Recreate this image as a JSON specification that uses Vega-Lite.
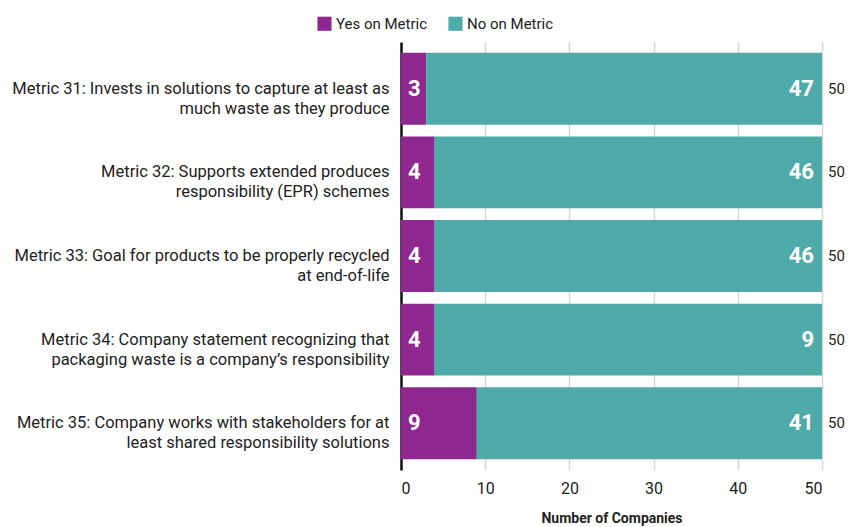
{
  "$schema": "https://vega.github.io/schema/vega-lite/v6.json",
  "width": 421,
  "height": 428,
  "autosize": {"type": "none"},
  "padding": {"left": 401, "top": 42, "right": 26, "bottom": 57},
  "background": "white",
  "config": {
    "view": {"stroke": null},
    "font": "Roboto",
    "axis": {"labelFont": "Roboto", "titleFont": "Roboto"},
    "legend": {"labelFont": "Roboto"}
  },
  "data": {
    "values": [
      {"metric": "Metric 31: Invests in solutions to capture at least as|much waste as they produce", "status": "Yes on Metric", "value": 3, "label": "3"},
      {"metric": "Metric 31: Invests in solutions to capture at least as|much waste as they produce", "status": "No on Metric", "value": 47, "label": "47"},
      {"metric": "Metric 32: Supports extended produces|responsibility (EPR) schemes", "status": "Yes on Metric", "value": 4, "label": "4"},
      {"metric": "Metric 32: Supports extended produces|responsibility (EPR) schemes", "status": "No on Metric", "value": 46, "label": "46"},
      {"metric": "Metric 33: Goal for products to be properly recycled|at end-of-life", "status": "Yes on Metric", "value": 4, "label": "4"},
      {"metric": "Metric 33: Goal for products to be properly recycled|at end-of-life", "status": "No on Metric", "value": 46, "label": "46"},
      {"metric": "Metric 34: Company statement recognizing that|packaging waste is a company’s responsibility", "status": "Yes on Metric", "value": 4, "label": "4"},
      {"metric": "Metric 34: Company statement recognizing that|packaging waste is a company’s responsibility", "status": "No on Metric", "value": 46, "label": "9"},
      {"metric": "Metric 35: Company works with stakeholders for at|least shared responsibility solutions", "status": "Yes on Metric", "value": 9, "label": "9"},
      {"metric": "Metric 35: Company works with stakeholders for at|least shared responsibility solutions", "status": "No on Metric", "value": 41, "label": "41"}
    ]
  },
  "encoding": {
    "y": {
      "field": "metric",
      "type": "nominal",
      "sort": null,
      "scale": {"paddingInner": 0.14, "paddingOuter": 0.13},
      "axis": {
        "title": null,
        "labelExpr": "split(datum.label, '|')",
        "labelFontSize": 16.5,
        "labelColor": "#222222",
        "labelLimit": 420,
        "labelPadding": 12,
        "labelLineHeight": 20,
        "ticks": false,
        "domainColor": "#111111",
        "domainWidth": 2.5
      }
    }
  },
  "layer": [
    {
      "mark": {"type": "bar"},
      "encoding": {
        "x": {
          "field": "value",
          "type": "quantitative",
          "stack": "zero",
          "scale": {"domain": [0, 50], "nice": false},
          "axis": {
            "title": "Number of Companies",
            "titleFontSize": 14,
            "titleFontWeight": "bold",
            "titleColor": "#222222",
            "titlePadding": 15,
            "values": [0, 10, 20, 30, 40, 50],
            "labelFontSize": 16,
            "labelColor": "#222222",
            "labelPadding": 10,
            "domain": false,
            "ticks": false,
            "grid": true,
            "gridColor": "#d6d6d6",
            "gridWidth": 1.5
          }
        },
        "color": {
          "field": "status",
          "type": "nominal",
          "scale": {"domain": ["Yes on Metric", "No on Metric"], "range": ["#8E288E", "#4FABA9"]},
          "legend": {
            "title": null,
            "orient": "none",
            "direction": "horizontal",
            "legendX": -84,
            "legendY": -26,
            "symbolType": "square",
            "symbolSize": 200,
            "symbolStrokeWidth": 0,
            "labelFontSize": 15,
            "labelColor": "#222222",
            "columnPadding": 20,
            "labelOffset": 4
          }
        },
        "order": {"field": "status", "sort": "descending"}
      }
    },
    {
      "transform": [
        {"stack": "value", "groupby": ["metric"], "sort": [{"field": "status", "order": "descending"}], "as": ["x0", "x1"]},
        {"filter": "datum.status === 'Yes on Metric'"}
      ],
      "mark": {"type": "text", "align": "left", "baseline": "middle", "dx": 7, "fontSize": 22, "fontWeight": "bold", "color": "white"},
      "encoding": {
        "x": {"field": "x0", "type": "quantitative"},
        "text": {"field": "label"}
      }
    },
    {
      "transform": [
        {"stack": "value", "groupby": ["metric"], "sort": [{"field": "status", "order": "descending"}], "as": ["x0", "x1"]},
        {"filter": "datum.status === 'No on Metric'"}
      ],
      "mark": {"type": "text", "align": "right", "baseline": "middle", "dx": -8, "fontSize": 22, "fontWeight": "bold", "color": "white"},
      "encoding": {
        "x": {"field": "x1", "type": "quantitative"},
        "text": {"field": "label"}
      }
    },
    {
      "mark": {"type": "text", "align": "left", "baseline": "middle", "dx": 6, "fontSize": 15, "color": "#222222"},
      "encoding": {
        "x": {"aggregate": "sum", "field": "value", "type": "quantitative"},
        "text": {"aggregate": "sum", "field": "value", "type": "quantitative"}
      }
    }
  ]
}
